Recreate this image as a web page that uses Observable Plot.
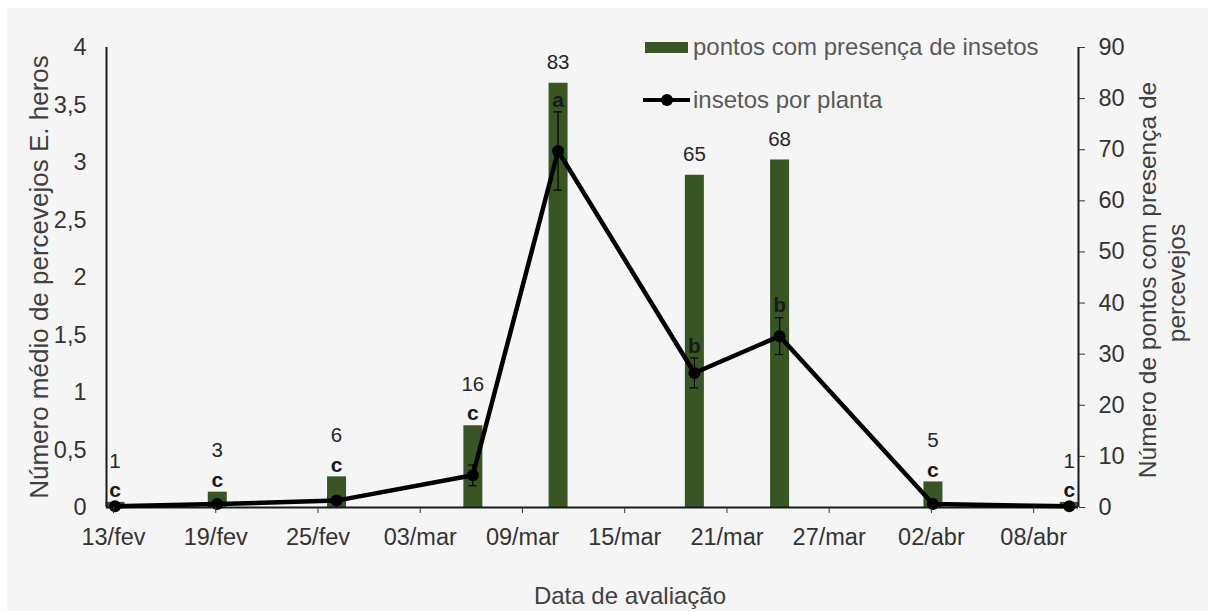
<!DOCTYPE html>
<html>
<head>
<meta charset="utf-8">
<script src="https://cdn.jsdelivr.net/npm/d3@7"></script>
<script src="https://cdn.jsdelivr.net/npm/@observablehq/plot@0.6"></script>
<style>
  html, body { margin: 0; padding: 0; background: #f5f5f5; }
  #wrap { position: relative; width: 1208px; height: 611px; overflow: hidden; font-family: "Liberation Sans", Arial, sans-serif; }
  #wrap svg { position: absolute; left: 0; top: 0; }
  .abs { position: absolute; white-space: nowrap; }
  .border-top { left: 0; top: 0; width: 1208px; height: 8px; background: #fff; }
  .border-left { left: 0; top: 0; width: 7px; height: 611px; background: #fff; }
  .title { color: #404040; font-size: 24px; line-height: 24px; }
  .rot { transform: translate(-50%, -50%) rotate(-90deg); }
  .leg { color: #595959; font-size: 24px; line-height: 24px; }
</style>
</head>
<body>
<div id="wrap"></div>
<script>
// ---- data ----
const dates   = ["2019-02-13","2019-02-19","2019-02-26","2019-03-06","2019-03-11","2019-03-19","2019-03-24","2019-04-02","2019-04-10"];
const pontos  = [1, 3, 6, 16, 83, 65, 68, 5, 1];                  // right axis: pontos com presença
const insetos = [0.01, 0.03, 0.06, 0.28, 3.10, 1.17, 1.49, 0.03, 0.01]; // left axis: insetos por planta
const erro    = [0, 0, 0, 0.09, 0.34, 0.13, 0.16, 0, 0];
const letras  = ["c","c","c","c","a","b","b","c","c"];
const leftTicks  = [0, 0.5, 1, 1.5, 2, 2.5, 3, 3.5, 4];
const rightTicks = [0, 10, 20, 30, 40, 50, 60, 70, 80, 90];
const tickDates  = ["2019-02-13","2019-02-19","2019-02-25","2019-03-03","2019-03-09","2019-03-15","2019-03-21","2019-03-27","2019-04-02","2019-04-08"];
const tickLabels = ["13/fev","19/fev","25/fev","03/mar","09/mar","15/mar","21/mar","27/mar","02/abr","08/abr"];
const xStart = "2019-02-13", xEnd = "2019-04-11";

// ---- helpers ----
const LEFT_MAX = 4, RIGHT_MAX = 90, k = LEFT_MAX / RIGHT_MAX;
const DAY = 86400000;
const day0 = s => new Date(s + "T00:00:00Z");
const midday = s => new Date(s + "T12:00:00Z");   // date-axis points sit mid-day
const green = "#375623";

const rows = dates.map((d, i) => ({
  date: midday(d), pontos: pontos[i], ins: insetos[i], err: erro[i], letra: letras[i]
}));
const errRows = rows.filter(d => d.err > 0);
// label anchors (in left-axis units): letters sit above the error bar, or above a short bar
const letterAnchor = d => (d.pontos * k < 1 ? Math.max(d.ins + d.err, d.pontos * k) : d.ins + d.err);
const numberAnchor = d => Math.max(d.pontos * k + 0.18, letterAnchor(d) + 0.36);

const tickMap = new Map(tickDates.map((d, i) => [+day0(d), tickLabels[i]]));
const fmtComma = d => String(d).replace(".", ",");

const chart = Plot.plot({
  width: 1208,
  height: 611,
  marginLeft: 106,
  marginRight: 130,
  marginTop: 47,
  marginBottom: 104,
  style: { fontFamily: '"Liberation Sans", Arial, sans-serif', fontSize: "23.5px", color: "#333", background: "transparent", overflow: "visible" },
  x: { type: "utc", domain: [day0(xStart), new Date(+day0(xEnd) + 3600000)] },
  y: { domain: [0, LEFT_MAX] },
  marks: [
    // bars (right axis, rescaled)
    Plot.ruleX(rows, { x: "date", y1: 0, y2: d => d.pontos * k, stroke: green, strokeWidth: 19 }),
    // axes lines
    Plot.ruleY([0], { stroke: "#1a1a1a", strokeWidth: 2 }),
    Plot.ruleX([day0(xStart)], { stroke: "#1a1a1a", strokeWidth: 2 }),
    Plot.ruleX([new Date(+day0(xEnd) + 3600000)], { stroke: "#1a1a1a", strokeWidth: 2 }),
    // error bars
    Plot.ruleX(errRows, { x: "date", y1: d => d.ins - d.err, y2: d => d.ins + d.err, stroke: "#000", strokeWidth: 1.2 }),
    Plot.ruleY(errRows, { y: d => d.ins + d.err, x1: d => new Date(+d.date - 0.25 * DAY), x2: d => new Date(+d.date + 0.25 * DAY), stroke: "#000", strokeWidth: 1.2 }),
    Plot.ruleY(errRows, { y: d => d.ins - d.err, x1: d => new Date(+d.date - 0.25 * DAY), x2: d => new Date(+d.date + 0.25 * DAY), stroke: "#000", strokeWidth: 1.2 }),
    // line + dots
    Plot.line(rows, { x: "date", y: "ins", stroke: "#000", strokeWidth: 4.5, strokeLinejoin: "round" }),
    Plot.dot(rows, { x: "date", y: "ins", r: 6, fill: "#000", stroke: "none" }),
    // letters
    Plot.text(rows, { x: "date", y: letterAnchor, text: "letra", dy: -12, fontWeight: "bold", fontSize: 21, fill: "#1a1a1a" }),
    // numbers
    Plot.text(rows, { x: "date", y: numberAnchor, text: d => String(d.pontos), fontSize: 20.5, fill: "#262626" }),
    // axes
    Plot.axisY(leftTicks, { anchor: "left", tickSize: 0, tickPadding: 20, tickFormat: fmtComma, label: null }),
    Plot.axisY(rightTicks.map(v => v * k), { anchor: "right", tickSize: 6, tickPadding: 14, tickFormat: d => String(Math.round(d / k)), label: null }),
    Plot.axisX(tickDates.map(day0), { anchor: "bottom", tickSize: 6, tickPadding: 15, dx: 7, tickFormat: d => tickMap.get(+d), label: null })
  ]
});

const wrap = document.getElementById("wrap");
wrap.appendChild(chart);

function addDiv(cls, html, style) {
  const el = document.createElement("div");
  el.className = "abs " + cls;
  el.innerHTML = html;
  Object.assign(el.style, style || {});
  wrap.appendChild(el);
  return el;
}
addDiv("border-top", "");
addDiv("border-left", "");
// axis titles
addDiv("title rot", "Número médio de percevejos E. heros", { left: "39px", top: "277px", fontSize: "26px", lineHeight: "26px" });
addDiv("title rot", "Número de pontos com presença de", { left: "1148px", top: "280px", fontSize: "24.5px" });
addDiv("title rot", "percevejos", { left: "1177px", top: "283px", fontSize: "24.5px" });
addDiv("title", "Data de avaliação", { left: "630px", top: "596px", transform: "translate(-50%, -50%)" });
// legend
addDiv("", "", { left: "645px", top: "42px", width: "43px", height: "11px", background: green });
addDiv("leg", "pontos com presença de insetos", { left: "693px", top: "47px", transform: "translateY(-50%)" });
addDiv("", "", { left: "643px", top: "98px", width: "47px", height: "4px", background: "#000" });
addDiv("", "", { left: "661px", top: "94px", width: "12px", height: "12px", background: "#000", borderRadius: "50%" });
addDiv("leg", "insetos por planta", { left: "693px", top: "100px", transform: "translateY(-50%)" });
</script>
</body>
</html>
